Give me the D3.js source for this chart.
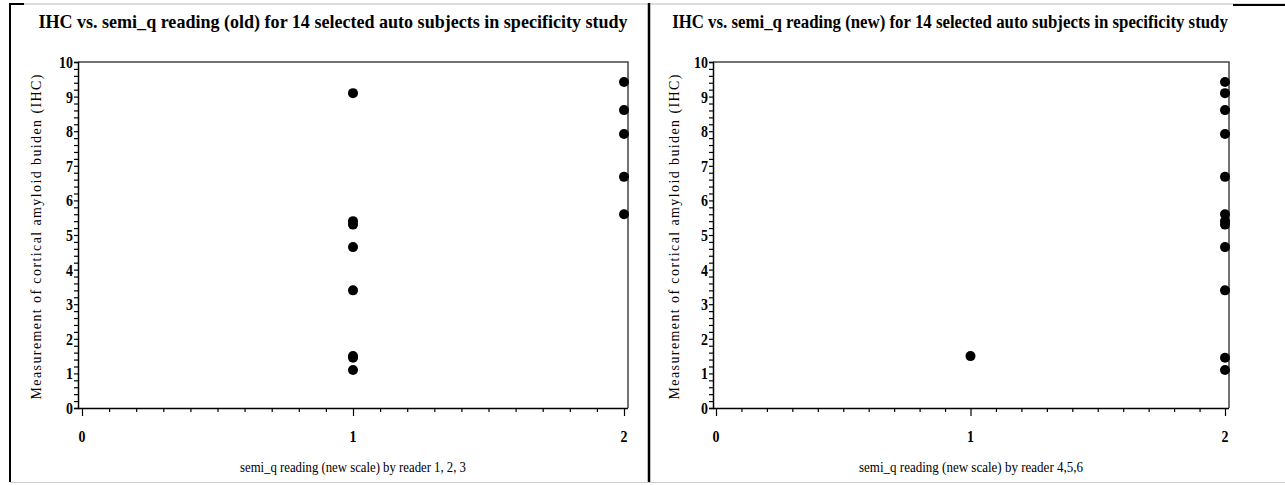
<!DOCTYPE html>
<html>
<head>
<meta charset="utf-8">
<script src="https://cdn.jsdelivr.net/npm/d3@7"></script>
<style>
  body { margin: 0; background: #fff; }
  svg { display: block; }
</style>
</head>
<body>
<div id="chart"></div>
<script>
// IHC measurement per subject, with the semi_q reading from both reader groups
const ihc        = [9.42, 9.1, 8.61, 7.92, 6.68, 5.6, 5.4, 5.3, 4.65, 3.4, 1.5, 1.45, 1.1];
const oldReading = [2,    1,   2,    2,    2,    2,   1,   1,   1,    1,   1,   1,    1];
const newReading = [2,    2,   2,    2,    2,    2,   2,   2,   2,    2,   1,   2,    2];

const xTicks = [0, 1, 2];
const yTicks = [0, 1, 2, 3, 4, 5, 6, 7, 8, 9, 10];

const panels = [
  {
    title: "IHC vs. semi_q reading (old) for 14 selected auto subjects in specificity study",
    xLabel: "semi_q reading (new scale) by reader 1, 2, 3",
    reading: oldReading,
    left: 78, right: 628, x0: 82, x2: 624,
    titleX: 333, titleW: 590, yLabX: 41
  },
  {
    title: "IHC vs. semi_q reading (new) for 14 selected auto subjects in specificity study",
    xLabel: "semi_q reading (new scale) by reader 4,5,6",
    reading: newReading,
    left: 713, right: 1229, x0: 716, x2: 1225,
    titleX: 950, titleW: 556, yLabX: 679
  }
];

const W = 1285, H = 485;
const plotTop = 62, plotBottom = 408;
const serif = "Liberation Serif, 'Times New Roman', serif";

const svg = d3.select("#chart").append("svg")
  .attr("width", W).attr("height", H);

// outer frame bits
svg.append("line").attr("x1", 10).attr("x2", W).attr("y1", 4).attr("y2", 4)
  .attr("stroke", "#bbb").attr("stroke-width", 1);
svg.append("line").attr("x1", 9).attr("x2", 24).attr("y1", 4).attr("y2", 4)
  .attr("stroke", "#000").attr("stroke-width", 2);
svg.append("line").attr("x1", 1233).attr("x2", W).attr("y1", 5).attr("y2", 5)
  .attr("stroke", "#000").attr("stroke-width", 2);
svg.append("line").attr("x1", 10).attr("x2", 10).attr("y1", 3).attr("y2", 482)
  .attr("stroke", "#000").attr("stroke-width", 2);
svg.append("line").attr("x1", 649).attr("x2", 649).attr("y1", 3).attr("y2", 482)
  .attr("stroke", "#000").attr("stroke-width", 2.5);
svg.append("line").attr("x1", 10).attr("x2", W).attr("y1", 482.5).attr("y2", 482.5)
  .attr("stroke", "#ccc").attr("stroke-width", 1);

const y = d3.scaleLinear().domain([0, 10]).range([plotBottom, plotTop]);

panels.forEach((p, pi) => {
  const g = svg.append("g");
  const x = d3.scaleLinear().domain([0, 2]).range([p.x0, p.x2]);

  // title: squeezed horizontally to the width seen in the picture
  const title = g.append("text")
    .attr("x", 0).attr("y", 28)
    .attr("text-anchor", "middle")
    .attr("font-family", serif)
    .attr("font-weight", "bold")
    .attr("font-size", 19)
    .text(p.title);
  const tw = title.node().getComputedTextLength();
  title.attr("transform", `translate(${p.titleX},0) scale(${p.titleW / tw},1)`);

  // frame: top + right
  g.append("path")
    .attr("d", `M${p.left},${plotTop}H${p.right}V${plotBottom}`)
    .attr("fill", "none").attr("stroke", "#444").attr("stroke-width", 1.5);

  // y axis
  const yAxis = g.append("g").attr("transform", `translate(${p.left},0)`)
    .call(d3.axisLeft(y).tickValues(d3.range(0, 10.01, 0.2)).tickSizeOuter(0).tickSize(4).tickFormat(""));
  yAxis.select(".domain").attr("stroke-width", 1.5);
  yAxis.selectAll(".tick line").attr("stroke-width", 1.2);
  g.append("g").selectAll("text").data(yTicks).join("text")
    .attr("x", p.left - 5).attr("y", d => y(d) + 6)
    .attr("text-anchor", "end")
    .attr("font-family", serif)
    .attr("font-weight", "bold").attr("font-size", 17)
    .attr("transform", `translate(${p.left - 5},0) scale(0.82,1) translate(${-(p.left - 5)},0)`)
    .text(d => d);

  // x axis
  const xAxis = g.append("g").attr("transform", `translate(0,${plotBottom})`)
    .call(d3.axisBottom(x).tickValues(d3.range(0, 2.001, 0.1)).tickSizeOuter(0).tickSize(4).tickFormat(""));
  xAxis.select(".domain").attr("d", `M${p.left},0.5H${p.right}`).attr("stroke-width", 1.5);
  xAxis.selectAll(".tick line").attr("stroke-width", 1.2)
    .attr("y2", d => xTicks.some(t => Math.abs(t - d) < 1e-6) ? 8 : 4);
  g.append("g").selectAll("text").data(xTicks).join("text")
    .attr("x", d => x(d)).attr("y", 442)
    .attr("text-anchor", "middle")
    .attr("font-family", serif)
    .attr("font-weight", "bold").attr("font-size", 17)
    .attr("transform", d => `translate(${x(d)},0) scale(0.82,1) translate(${-x(d)},0)`)
    .text(d => d);

  // axis labels
  g.append("text")
    .attr("x", (p.left + p.right) / 2).attr("y", 472)
    .attr("text-anchor", "middle")
    .attr("font-family", serif)
    .attr("font-size", 15)
    .attr("textLength", pi === 0 ? 226 : 224)
    .attr("lengthAdjust", "spacingAndGlyphs")
    .text(p.xLabel);

  g.append("text")
    .attr("transform", `translate(${p.yLabX},${(plotTop + plotBottom) / 2 + 2}) rotate(-90)`)
    .attr("text-anchor", "middle")
    .attr("font-family", serif)
    .attr("font-size", 14)
    .attr("textLength", 325)
    .attr("lengthAdjust", "spacing")
    .text("Measurement of cortical amyloid buiden (IHC)");

  // points
  g.append("g").selectAll("circle").data(ihc).join("circle")
    .attr("cx", (d, i) => x(p.reading[i]))
    .attr("cy", d => y(d))
    .attr("r", 5)
    .attr("fill", "#000");
});
</script>
</body>
</html>
